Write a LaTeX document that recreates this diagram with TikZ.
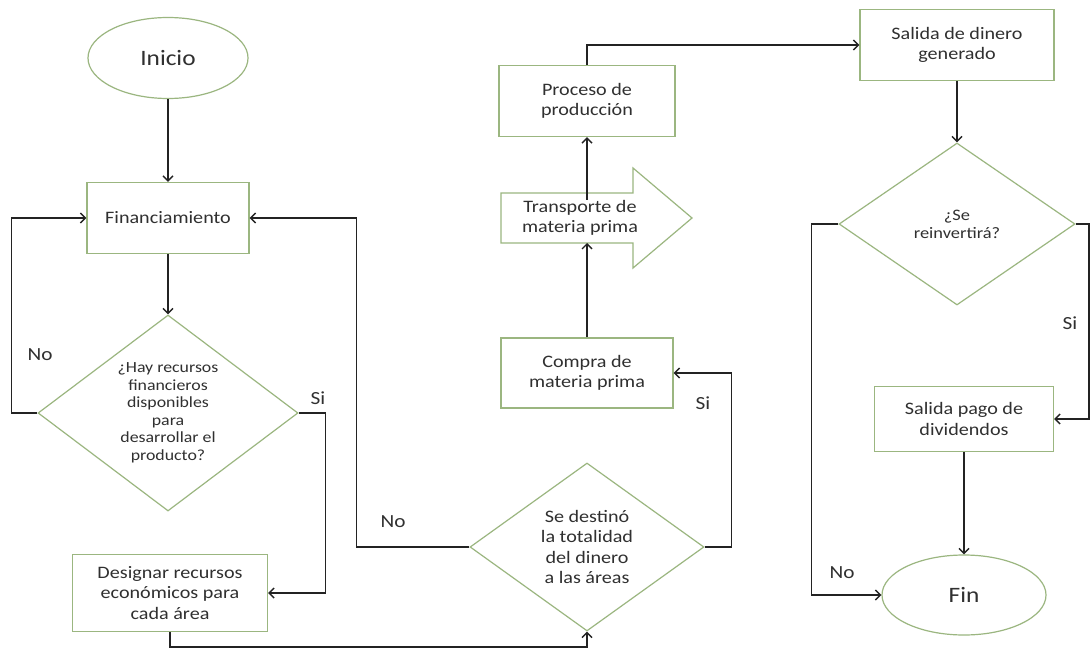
\documentclass[tikz,border=0pt]{standalone}
\usepackage{fontspec}
\setmainfont{Carlito}[FakeStretch=1.15]
\usetikzlibrary{arrows.meta,shapes.geometric,calc}
\definecolor{edgegreen}{RGB}{155,182,128}
\definecolor{ink}{RGB}{48,48,48}
\definecolor{wirecol}{RGB}{35,35,35}
\begin{document}
\begin{tikzpicture}[x=1pt,y=-1pt,
  every node/.style={text=ink, font=\fontsize{17.5}{20.5}\selectfont, align=center, inner sep=0pt},
  box/.style={draw=edgegreen, line width=1.2pt, fill=white, rectangle},
  term/.style={draw=edgegreen, line width=1.2pt, fill=white, ellipse, font=\fontsize{22}{26}\selectfont},
  decide/.style={draw=edgegreen, line width=1.2pt, fill=white, diamond},
  flow/.style={draw=wirecol, line width=1.4pt, -{Straight Barb[length=5pt,width=10pt]}},
  tag/.style={font=\fontsize{18.5}{21}\selectfont}
]
\useasboundingbox[fill=white] (0,0) rectangle (1091,652);

% left column
\node[term, minimum width=160, minimum height=81] (inicio) at (168,58) {Inicio};
\node[box, minimum width=162, minimum height=71] (financ) at (168,218) {Financiamiento};
\node[decide, minimum width=260, minimum height=196, shape aspect=1.33,
      font=\fontsize{15.5}{17.5}\selectfont] (d1) at (168,413)
  {¿Hay recursos\\financieros\\disponibles\\para\\desarrollar el\\producto?};
\node[box, minimum width=195, minimum height=77] (desig) at (170,593)
  {Designar recursos\\económicos para\\cada área};

% middle column
\node[decide, minimum width=234, minimum height=168, shape aspect=1.4] (d2) at (587,547)
  {Se destinó\\la totalidad\\del dinero\\a las áreas};
\node[box, minimum width=172, minimum height=70] (compra) at (587,373) {Compra de\\materia prima};
\draw[draw=edgegreen, line width=1.2pt, fill=white]
  (501,193) -- (633,193) -- (633,168) -- (692,218) -- (633,268) -- (633,243) -- (501,243) -- cycle;
\node (trans) at (580,218) {Transporte de\\materia prima};
\coordinate (trans-in) at (587,243);
\coordinate (trans-out) at (587,200);
\node[box, minimum width=176, minimum height=71] (proc) at (587,101) {Proceso de\\producción};

% right column
\node[box, minimum width=194, minimum height=71] (salida) at (957,45) {Salida de dinero\\generado};
\node[decide, minimum width=236, minimum height=162, shape aspect=1.46,
      font=\fontsize{16}{18}\selectfont] (d3) at (957,224) {¿Se\\reinvertirá?};
\node[box, minimum width=179, minimum height=65] (pago) at (964,419) {Salida pago de\\dividendos};
\node[term, minimum width=164, minimum height=80] (fin) at (964,595) {Fin};
\coordinate (rim) at (1089,224);

% connectors
\draw[flow] (inicio.south) -- (inicio.south |- financ.north);
\draw[flow] (financ.south) -- (d1.north);
\draw[flow] (d1.west) -- ++(-26,0) |- (financ.west);
\draw[flow] (d1.east) -- ++(27,0) |- (desig.east);
\draw[flow] (desig.south) -- ++(0,15) -| (d2.south);
\draw[flow] (d2.west) -- ++(-113,0) |- (financ.east);
\draw[flow] (d2.east) -- ++(27,0) |- (compra.east);
\draw[flow] (compra.north) -- (trans-in);
\draw[flow] (trans-out) -- (proc.south);
\draw[flow] (proc.north) |- (salida.west);
\draw[flow] (salida.south) -- (d3.north);
\draw[flow] (d3.west) -- ++(-27,0) |- (fin.west);
\draw[flow] (d3.east) -- (rim) |- (pago.east);
\draw[flow] (pago.south) -- (pago.south |- fin.north);

% branch labels
\node[tag] (l1) at (40,355) {No};
\node[tag] (l2) at (318,398) {Si};
\node[tag] (l3) at (393,522) {No};
\node[tag] (l4) at (703,403) {Si};
\node[tag] (l5) at (842,573) {No};
\node[tag] (l6) at (1070,323) {Si};
\end{tikzpicture}
\end{document}
